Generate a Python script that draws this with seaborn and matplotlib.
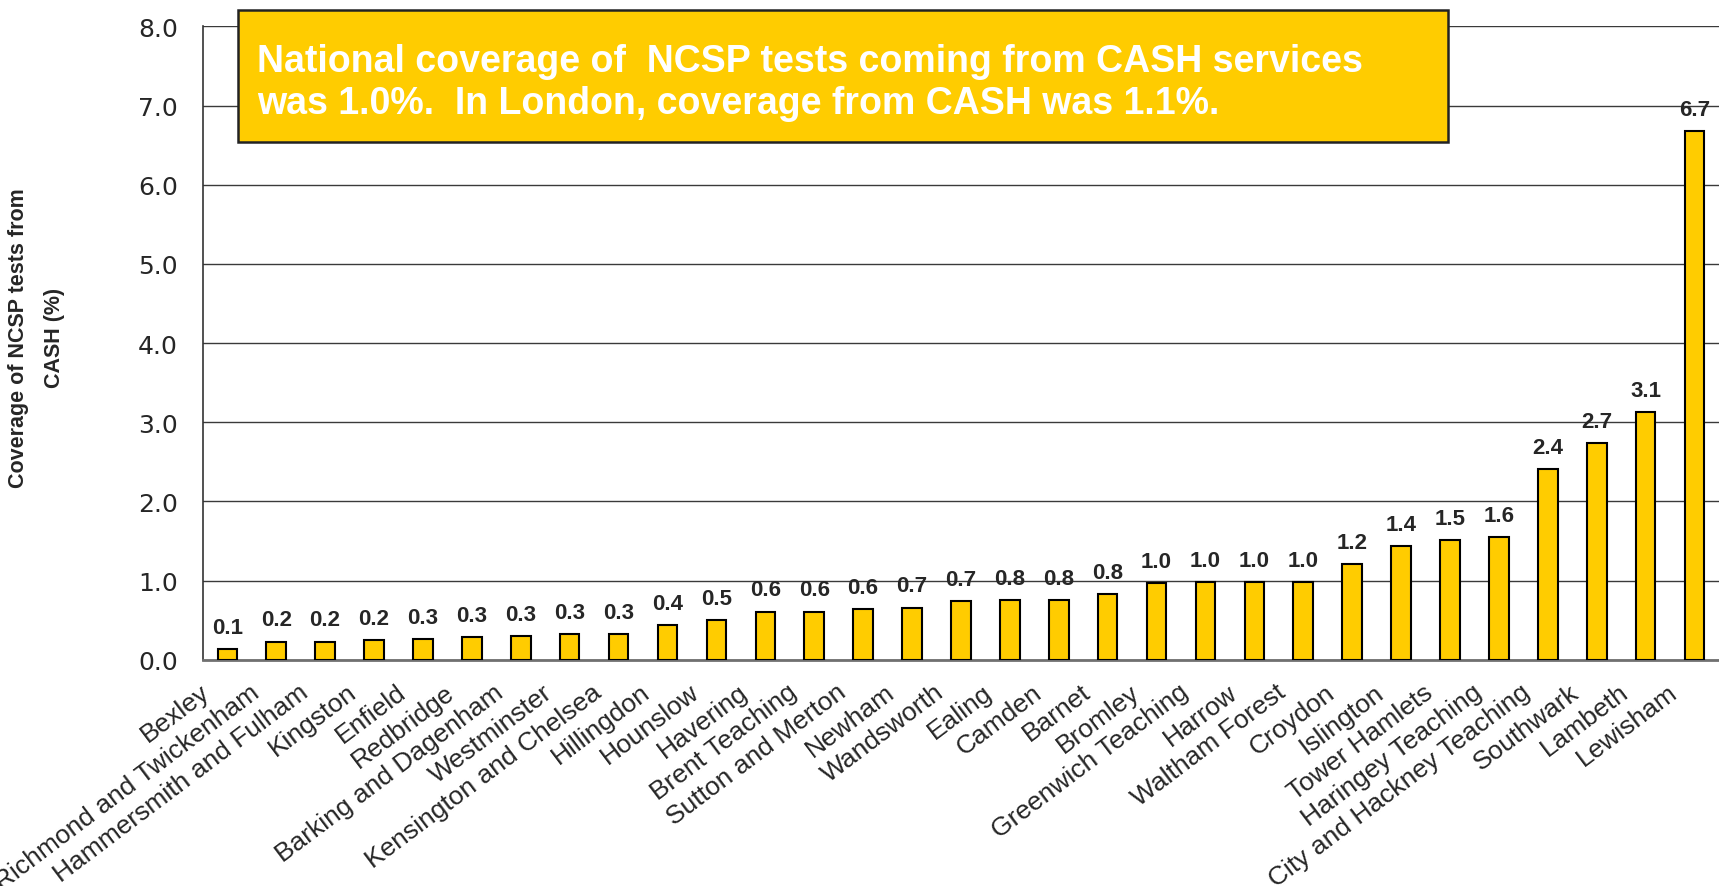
import matplotlib
matplotlib.use("Agg")
import matplotlib.pyplot as plt
import matplotlib.transforms as mtransforms
import seaborn as sns
import pandas as pd
import numpy as np
from matplotlib.patches import Rectangle

areas = ["Bexley", "Richmond and Twickenham", "Hammersmith and Fulham", "Kingston",
         "Enfield", "Redbridge", "Barking and Dagenham", "Westminster",
         "Kensington and Chelsea", "Hillingdon", "Hounslow", "Havering",
         "Brent Teaching", "Sutton and Merton", "Newham", "Wandsworth", "Ealing",
         "Camden", "Barnet", "Bromley", "Greenwich Teaching", "Harrow",
         "Waltham Forest", "Croydon", "Islington", "Tower Hamlets",
         "Haringey Teaching", "City and Hackney Teaching", "Southwark", "Lambeth",
         "Lewisham"]
coverage = [0.14, 0.23, 0.23, 0.25, 0.26, 0.29, 0.30, 0.32, 0.32, 0.44, 0.50,
            0.61, 0.61, 0.64, 0.66, 0.74, 0.76, 0.76, 0.83, 0.97, 0.98, 0.98,
            0.98, 1.21, 1.44, 1.51, 1.55, 2.41, 2.74, 3.13, 6.68]
y_ticks = [0, 1, 2, 3, 4, 5, 6, 7, 8]
y_label = "Coverage of NCSP tests from\nCASH (%)"
note = "National coverage of  NCSP tests coming from CASH services\nwas 1.0%.  In London, coverage from CASH was 1.1%."

sns.set_style("white")
plt.rcParams['font.family'] = ['Liberation Sans', 'DejaVu Sans']

df = pd.DataFrame({"area": areas, "coverage": coverage})

fig = plt.figure(figsize=(17.19, 8.87), dpi=100)
ax = fig.add_axes([0.118, 0.255, 0.882, 0.714])

sns.barplot(data=df, x="area", y="coverage", order=areas, color="#FFCC00",
            saturation=1, edgecolor="black", linewidth=1.5, width=0.4, ax=ax, zorder=3)

ax.set_ylim(0, 8)
ax.set_xlim(-0.5, len(areas) - 0.5)
ax.set_yticks(y_ticks)
ax.set_yticklabels([f"{v:.1f}" for v in y_ticks], fontsize=18, family=["DejaVu Sans"])
ax.yaxis.grid(True, color="#3a3a3a", linewidth=1.0, zorder=0)
ax.xaxis.grid(False)
ax.set_axisbelow(True)

for s in ["top", "right"]:
    ax.spines[s].set_visible(False)
ax.spines["left"].set_color("#333333")
ax.spines["left"].set_linewidth(1.2)
ax.spines["bottom"].set_color("#707070")
ax.spines["bottom"].set_linewidth(2)

ax.tick_params(axis="y", which="major", direction="out", length=8, width=1, color="#333333", pad=10)
ax.set_xticks(np.arange(len(areas)))
ax.set_xticklabels(areas, fontsize=19)
ax.tick_params(axis="x", which="major", length=0, pad=21)
ax.set_xticks(np.arange(-0.5, len(areas), 1.0), minor=True)
ax.tick_params(axis="x", which="minor", direction="out", length=9, width=1.2, color="#707070")
shift = mtransforms.ScaledTranslation(-0.2, 0, fig.dpi_scale_trans)
for lab in ax.get_xticklabels():
    lab.set_rotation(37)
    lab.set_ha("right")
    lab.set_va("center")
    lab.set_rotation_mode("anchor")
    lab.set_transform(lab.get_transform() + shift)

ax.set_xlabel("")
ax.set_ylabel(y_label, fontsize=15.5, fontweight="bold", linespacing=1.9)
ax.yaxis.set_label_coords(-0.091, 0.51)

for i, v in enumerate(coverage):
    ax.annotate(f"{v:.1f}", (i, v), xytext=(0, 8), textcoords="offset points",
                ha="center", va="bottom", fontsize=16, fontweight="bold")

rect = Rectangle((0.023, 0.817), 0.798, 0.209, transform=ax.transAxes,
                 facecolor="#FFCC00", edgecolor="#222222", linewidth=1.8,
                 clip_on=False, zorder=5)
ax.add_patch(rect)
ax.text(0.036, 0.912, note, transform=ax.transAxes, fontsize=27, fontweight="bold",
        color="white", ha="left", va="center", linespacing=1.2, zorder=6)

fig.savefig("out.png", dpi=100)
